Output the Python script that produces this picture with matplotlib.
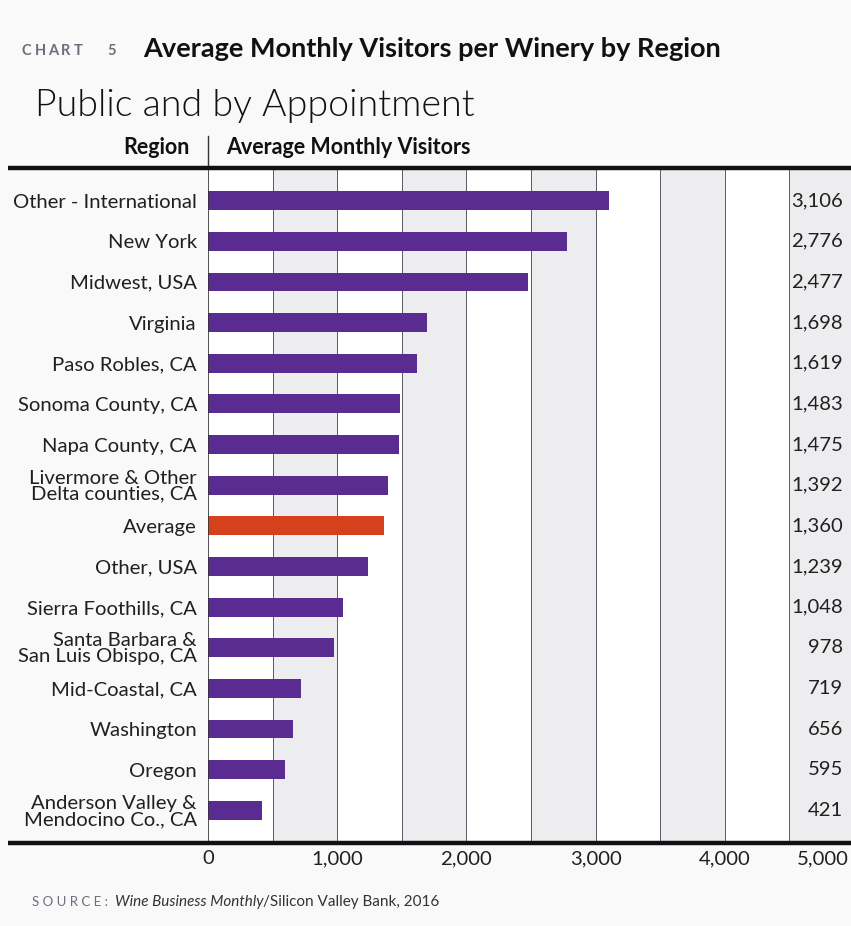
import matplotlib
matplotlib.use("Agg")
import matplotlib.pyplot as plt
from matplotlib.lines import Line2D
import matplotlib.transforms as mtransforms

# ---- data ----
regions = ["Other - International", "New York", "Midwest, USA", "Virginia",
           "Paso Robles, CA", "Sonoma County, CA", "Napa County, CA",
           "Livermore & Other\nDelta counties, CA", "Average", "Other, USA",
           "Sierra Foothills, CA", "Santa Barbara &\nSan Luis Obispo, CA",
           "Mid-Coastal, CA", "Washington", "Oregon",
           "Anderson Valley &\nMendocino Co., CA"]
visitors = [3106, 2776, 2477, 1698, 1619, 1483, 1475, 1392, 1360, 1239,
            1048, 978, 719, 656, 595, 421]
value_labels = ["3,106", "2,776", "2,477", "1,698", "1,619", "1,483", "1,475",
                "1,392", "1,360", "1,239", "1,048", "978", "719", "656", "595", "421"]
xticks = [0, 1000, 2000, 3000, 4000, 5000]
xtick_labels = ["0", "1,000", "2,000", "3,000", "4,000", "5,000"]

PURPLE = "#5a2c92"
RED = "#d5401d"
TEXT = "#231f20"
FONT = "Lato"

W, H = 851, 926
fig = plt.figure(figsize=(W / 100, H / 100), dpi=100, facecolor="#f9f9f9")

def fx(px):
    return px / W

def fy(py):
    return 1 - py / H

ax_left, ax_right = 208, 854
ax_top, ax_bot = 168, 843
ax = fig.add_axes([fx(ax_left), fy(ax_bot), (ax_right - ax_left) / W, (ax_bot - ax_top) / H])
ax.set_facecolor("white")
ax.set_xlim(0, 5000)
ax.set_ylim(15.8, -0.8)

# background bands and gridlines
for i in range(10):
    if i % 2 == 1:
        ax.axvspan(i * 500, (i + 1) * 500, color="#ededef", zorder=0, lw=0)
for i in range(1, 10):
    ax.axvline(i * 500, color="#5a5a66", lw=0.7, zorder=1)
ax.axvline(0, color="#333333", lw=1.2, zorder=3)

colors = [RED if r == "Average" else PURPLE for r in regions]
ypos = list(range(len(regions)))
ax.barh(ypos, visitors, height=0.46, color=colors, zorder=2)

ax.set_yticks(ypos)
ax.set_yticklabels(regions, fontfamily=FONT, fontsize=14.6, color=TEXT,
                   linespacing=0.93)
ax.tick_params(axis="y", length=0, pad=8)
ax.set_xticks(xticks)
ax.set_xticklabels(xtick_labels, fontfamily=FONT, fontsize=14.6, color=TEXT)
ax.tick_params(axis="x", length=0, pad=5)
last = ax.get_xticklabels()[-1]
last.set_horizontalalignment("right")
last.set_transform(last.get_transform() +
                   mtransforms.ScaledTranslation(-5 / 100, 0, fig.dpi_scale_trans))
for s in ax.spines.values():
    s.set_visible(False)

# value labels
trans = mtransforms.blended_transform_factory(fig.transFigure, ax.transData)
for y, lab in zip(ypos, value_labels):
    ax.text(fx(843), y, lab, transform=trans, ha="right", va="center",
            fontfamily=FONT, fontsize=14.6, color=TEXT, zorder=4)

# thick rules
for yy in (ax_top, ax_bot):
    fig.add_artist(Line2D([fx(8), 1.0], [fy(yy), fy(yy)], color="#111111",
                          lw=3.2, transform=fig.transFigure, zorder=5,
                          solid_capstyle="butt"))
# header separator
fig.add_artist(Line2D([fx(208), fx(208)], [fy(136), fy(168)], color="#333333",
                      lw=1.0, transform=fig.transFigure))

# titles
for ch, px in zip("CHART5", [22, 35, 48, 61, 74, 107]):
    fig.text(fx(px), fy(51), ch, fontfamily=FONT, fontsize=10.5,
             fontweight="bold", color="#6b6f7c", va="center", ha="left")
fig.text(fx(143), fy(49), "Average Monthly Visitors per Winery by Region",
         fontfamily=FONT, fontsize=19.5, fontweight="bold", color="#111111",
         va="center", ha="left")
fig.text(fx(35), fy(106), "Public and by Appointment", fontfamily=FONT,
         fontsize=27, fontweight=300, color="#111111", va="center", ha="left")
fig.text(fx(190), fy(147), "Region", fontfamily=FONT, fontsize=15.5,
         fontweight="bold", color="#111111", va="center", ha="right")
fig.text(fx(226), fy(147), "Average Monthly Visitors", fontfamily=FONT,
         fontsize=15.5, fontweight="bold", color="#111111", va="center", ha="left")

# source line
fig.canvas.draw()
renderer = fig.canvas.get_renderer()
x = fx(32)
parts = [("S O U R C E :  ", "normal", "#6b6f7c", 9.5),
         ("Wine Business Monthly", "italic", "#333333", 11),
         ("/Silicon Valley Bank, 2016", "normal", "#333333", 11)]
for txt, style, col, size in parts:
    t = fig.text(x, fy(902), txt, fontfamily=FONT, fontsize=size, style=style,
                 color=col, va="center", ha="left")
    bb = t.get_window_extent(renderer)
    x += bb.width / W

fig.savefig("out.png", dpi=100, facecolor=fig.get_facecolor())
